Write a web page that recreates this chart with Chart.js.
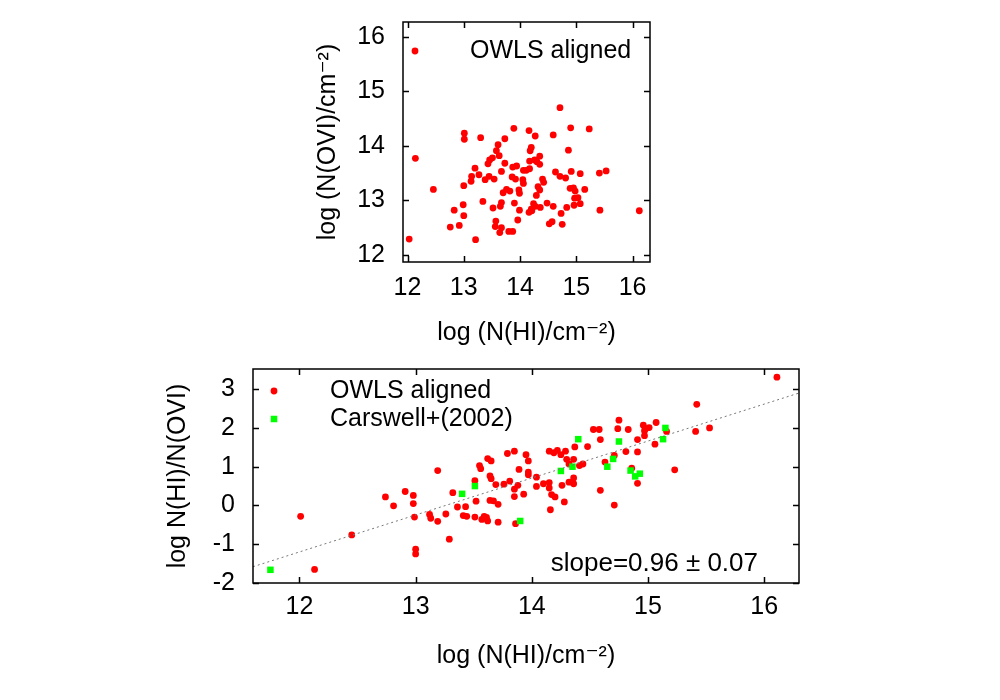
<!DOCTYPE html>
<html><head><meta charset="utf-8">
<script src="https://cdn.jsdelivr.net/npm/chart.js@4.4.1/dist/chart.umd.min.js"></script>
<style>
html,body{margin:0;padding:0;background:#fff;width:1000px;height:700px;overflow:hidden;}
canvas{position:absolute;display:block;}
#c1{left:290px;top:0px;}
#c2{left:140px;top:355px;}
</style></head><body>
<canvas id="c1" width="380" height="350"></canvas>
<canvas id="c2" width="680" height="345"></canvas>
<script>
// ---------- DATA ----------
// Top panel: OWLS aligned, log N(HI) vs log N(OVI)
const hiTop = [12.03,12.14,12.46,12.76,12.83,12.92,12.99,13.00,13.00,13.01,13.01,13.13,13.14,13.20,13.21,13.27,13.30,13.34,13.38,13.45,13.43,13.46,13.51,13.54,13.52,13.57,13.56,13.58,13.61,13.63,13.64,13.65,13.67,13.67,13.67,13.70,13.73,13.73,13.76,13.82,13.80,13.87,13.87,13.86,13.89,13.90,13.92,13.94,13.96,13.98,13.99,13.99,14.05,14.06,14.06,
14.16,14.27,14.18,14.20,14.17,14.26,14.35,14.35,14.30,14.17,14.11,14.40,14.42,14.32,14.35,14.29,14.24,14.27,14.20,14.16,14.21,14.36,14.48,14.59,14.52,14.57,14.73,14.75,14.59,14.71,14.90,14.86,14.63,14.71,14.81,14.91,15.07,15.23,14.89,14.95,14.98,15.15,14.97,15.03,15.07,14.96,14.83,15.41,15.53,15.42,16.12];
const oviTop = [12.29,13.77,13.20,12.51,12.82,12.54,12.92,12.72,13.27,14.23,14.12,13.35,13.44,13.59,12.28,13.47,14.15,12.98,13.38,13.44,13.67,13.74,13.78,13.39,12.86,12.62,12.52,13.91,14.02,13.82,12.41,12.89,12.96,12.50,13.53,13.14,13.68,14.13,13.20,13.17,12.43,12.43,13.61,13.43,14.32,12.95,13.39,13.63,12.64,13.19,12.82,13.13,13.38,13.31,13.55,
14.28,14.18,13.91,13.97,13.72,13.74,13.81,13.66,13.71,13.58,13.55,13.39,13.33,13.25,13.19,13.09,12.94,12.89,12.84,12.78,12.81,12.87,12.95,12.89,12.57,12.61,12.76,12.56,14.20,14.70,14.33,13.92,13.52,13.44,13.41,13.53,13.49,14.31,13.22,13.23,13.17,13.20,13.04,13.05,12.94,12.91,12.87,13.50,13.54,12.82,12.81];

// Bottom panel: OWLS aligned, log N(HI) vs log N(HI)/N(OVI)
const hiBot = [12.01,12.13,12.45,12.74,12.81,
12.91,12.98,12.98,12.99,13.00,13.00,13.19,13.12,13.13,13.19,13.26,13.29,13.32,13.36,13.41,13.44,13.43,13.51,13.52,13.51,13.55,13.56,13.62,13.65,13.64,13.65,13.69,13.64,13.67,13.71,13.57,13.59,13.61,13.62,13.71,13.76,13.81,13.79,13.85,13.89,13.85,13.85,13.93,13.88,13.86,13.95,13.97,13.97,13.97,14.04,14.04,
14.10,14.15,14.15,14.17,14.20,14.16,14.28,14.26,14.32,14.36,14.36,14.15,14.19,14.22,14.25,14.29,14.30,14.32,14.36,14.37,14.41,14.44,14.48,14.53,14.58,14.59,14.59,14.63,14.71,14.74,14.75,14.83,14.71,14.81,14.86,14.91,14.91,14.91,14.96,14.97,14.97,14.98,15.01,15.07,15.06,15.16,15.23,
15.42,15.41,15.53,16.11];
const ratioBot = [-0.28,-1.65,-0.76,0.22,-0.01,
0.36,0.26,0.05,-0.30,-1.13,-1.25,0.90,-0.23,-0.33,-0.41,-0.22,-0.87,0.33,-0.04,-0.26,-0.28,-0.03,0.64,0.11,-0.30,1.03,0.95,1.21,1.15,0.76,0.69,0.54,0.13,0.12,0.03,-0.36,-0.28,-0.31,-0.40,-0.43,0.55,0.63,1.34,1.40,0.93,0.42,0.23,0.29,0.52,-0.47,1.31,1.15,0.86,0.79,0.73,0.49,
0.56,0.59,0.45,0.28,0.22,-0.11,0.09,0.52,0.60,0.56,0.71,1.40,1.36,1.42,1.31,1.40,1.19,1.07,1.19,1.51,1.03,1.07,1.52,1.96,1.96,1.70,0.39,1.12,0.01,1.98,2.20,1.96,1.29,1.39,0.96,1.70,1.38,0.57,2.07,1.93,1.80,1.98,2.01,2.14,1.58,1.91,0.92,
2.61,1.91,2.00,3.31];

// Carswell+(2002)
const carsHI = [11.75,13.40,13.51,13.90,14.25,14.35,14.40,14.65,14.70,14.75,14.85,14.89,14.93,15.13,15.15];
const carsRatio = [-1.66,0.30,0.50,-0.40,0.89,1.00,1.71,1.00,1.20,1.65,0.90,0.75,0.82,1.71,2.00];

// Fit line (end points)
const fitHI = [11.6, 16.3];
const fitRatio = [-1.58, 2.90];

const seriesNames = ['OWLS aligned', 'Carswell+(2002)'];
const slopeLabel = 'slope=0.96 \u00b1 0.07';
const xTitle = 'log (N(HI)/cm\u207b\u00b2)';
const yTitleTop = 'log (N(OVI)/cm\u207b\u00b2)';
const yTitleBot = 'log N(HI)/N(OVI)';

const xTicksTop = [12,13,14,15,16];
const yTicksTop = [12,13,14,15,16];
const xTicksBot = [12,13,14,15,16];
const yTicksBot = [-2,-1,0,1,2,3];

// ---------- STYLE ----------
const FAMILY = "'Liberation Sans','DejaVu Sans',Arial,sans-serif";
const FS = 25;
const FONT = {family: FAMILY, size: FS};
const pts = (xs, ys) => xs.map((x, i) => ({x: x, y: ys[i]}));

function axis(min, max, ticks, title, o) {
  return {
    type: 'linear', min: min, max: max,
    afterBuildTicks: s => { s.ticks = ticks.map(v => ({value: v})); },
    afterFit: s => {
      if (s.isHorizontal()) s.height = o.size; else s.width = o.size;
      s.paddingTop = 0; s.paddingBottom = 0; s.paddingLeft = 0; s.paddingRight = 0;
    },
    grid: {display: false, drawTicks: false},
    border: {display: false},
    ticks: {color: '#000', font: FONT, padding: o.pad, autoSkip: false, maxRotation: 0,
            callback: v => String(v)},
    title: {display: true, text: title, color: '#000', font: FONT, padding: o.tpad}
  };
}

const framePlugin = {
  id: 'gnuFrame',
  afterDatasetsDraw(chart) {
    const ca = chart.chartArea, ctx = chart.ctx;
    const L = 6;
    ctx.save();
    ctx.strokeStyle = '#000';
    ctx.lineWidth = 1.5;
    ctx.beginPath();
    const xs = chart.scales.x, ys = chart.scales.y;
    xs.ticks.forEach(t => {
      const p = Math.round(xs.getPixelForValue(t.value)) + 0.5;
      ctx.moveTo(p, ca.bottom); ctx.lineTo(p, ca.bottom - L);
      ctx.moveTo(p, ca.top); ctx.lineTo(p, ca.top + L);
    });
    ys.ticks.forEach(t => {
      const p = Math.round(ys.getPixelForValue(t.value)) + 0.5;
      ctx.moveTo(ca.left, p); ctx.lineTo(ca.left + L, p);
      ctx.moveTo(ca.right, p); ctx.lineTo(ca.right - L, p);
    });
    ctx.stroke();
    ctx.strokeRect(ca.left, ca.top, ca.right - ca.left, ca.bottom - ca.top);
    ctx.restore();
  }
};

const keyPlugin = {
  id: 'gnuKey',
  afterDraw(chart, args, o) {
    const ca = chart.chartArea, ctx = chart.ctx;
    ctx.save();
    ctx.font = FS + 'px ' + FAMILY;
    ctx.textBaseline = 'middle';
    ctx.textAlign = 'left';
    let row = 0;
    chart.data.datasets.forEach(ds => {
      if (!ds.label) return;
      const y = ca.top + o.y0 + row * o.dy;
      ctx.fillStyle = ds.backgroundColor;
      ctx.strokeStyle = ds.backgroundColor;
      Chart.helpers.drawPoint(ctx, {pointStyle: ds.pointStyle, radius: ds.pointRadius, rotation: 0, borderWidth: 0}, ca.left + o.symX, y);
      ctx.fillStyle = '#000';
      ctx.fillText(ds.label, ca.left + o.textX, y);
      row++;
    });
    if (o.note) {
      ctx.font = o.noteSize + 'px ' + FAMILY;
      ctx.textAlign = 'right';
      ctx.textBaseline = 'alphabetic';
      ctx.fillText(o.note, ca.right - o.noteRight, ca.bottom - o.noteBottom);
    }
    ctx.restore();
  }
};

const RED = '#ff0000', GREEN = '#00ff00';

new Chart(document.getElementById('c1'), {
  type: 'scatter',
  data: {datasets: [
    {label: seriesNames[0], data: pts(hiTop, oviTop), backgroundColor: RED, borderColor: RED,
     pointStyle: 'circle', pointRadius: 3.4, borderWidth: 0}
  ]},
  options: {
    responsive: false, animation: false, devicePixelRatio: 1,
    layout: {padding: {left: 0, right: 20, top: 22, bottom: 0}},
    plugins: {legend: {display: false}, tooltip: {enabled: false},
      gnuKey: {symX: 12, textX: 67, y0: 29, dy: 28}},
    scales: {
      x: axis(11.92, 16.31, xTicksTop, xTitle, {size: 88, pad: 11, tpad: {top: 0, bottom: 2}}),
      y: axis(11.87, 16.27, yTicksTop, yTitleTop, {size: 113, pad: 18, tpad: {top: 23, bottom: 0}})
    }
  },
  plugins: [framePlugin, keyPlugin]
});

new Chart(document.getElementById('c2'), {
  type: 'scatter',
  data: {datasets: [
    {label: seriesNames[0], data: pts(hiBot, ratioBot), backgroundColor: RED, borderColor: RED,
     pointStyle: 'circle', pointRadius: 3.4, borderWidth: 0, order: 2},
    {label: seriesNames[1], data: pts(carsHI, carsRatio), backgroundColor: GREEN, borderColor: GREEN,
     pointStyle: 'rect', pointRadius: 4.6, borderWidth: 0, order: 1},
    {data: pts(fitHI, fitRatio), showLine: true, pointRadius: 0, borderColor: '#777',
     borderWidth: 1, borderDash: [2, 3], fill: false, order: 0}
  ]},
  options: {
    responsive: false, animation: false, devicePixelRatio: 1,
    layout: {padding: {left: 0, right: 21, top: 14, bottom: 0}},
    plugins: {legend: {display: false}, tooltip: {enabled: false},
      gnuKey: {symX: 21, textX: 77, y0: 22, dy: 28, note: slopeLabel, noteSize: 26, noteRight: 41, noteBottom: 12}},
    scales: {
      x: axis(11.6, 16.3, xTicksBot, xTitle, {size: 117, pad: 9, tpad: {top: 0, bottom: 29}}),
      y: axis(-2, 3.52, yTicksBot, yTitleBot, {size: 113, pad: 18, tpad: {top: 23, bottom: 0}})
    }
  },
  plugins: [framePlugin, keyPlugin]
});
</script>
</body></html>
